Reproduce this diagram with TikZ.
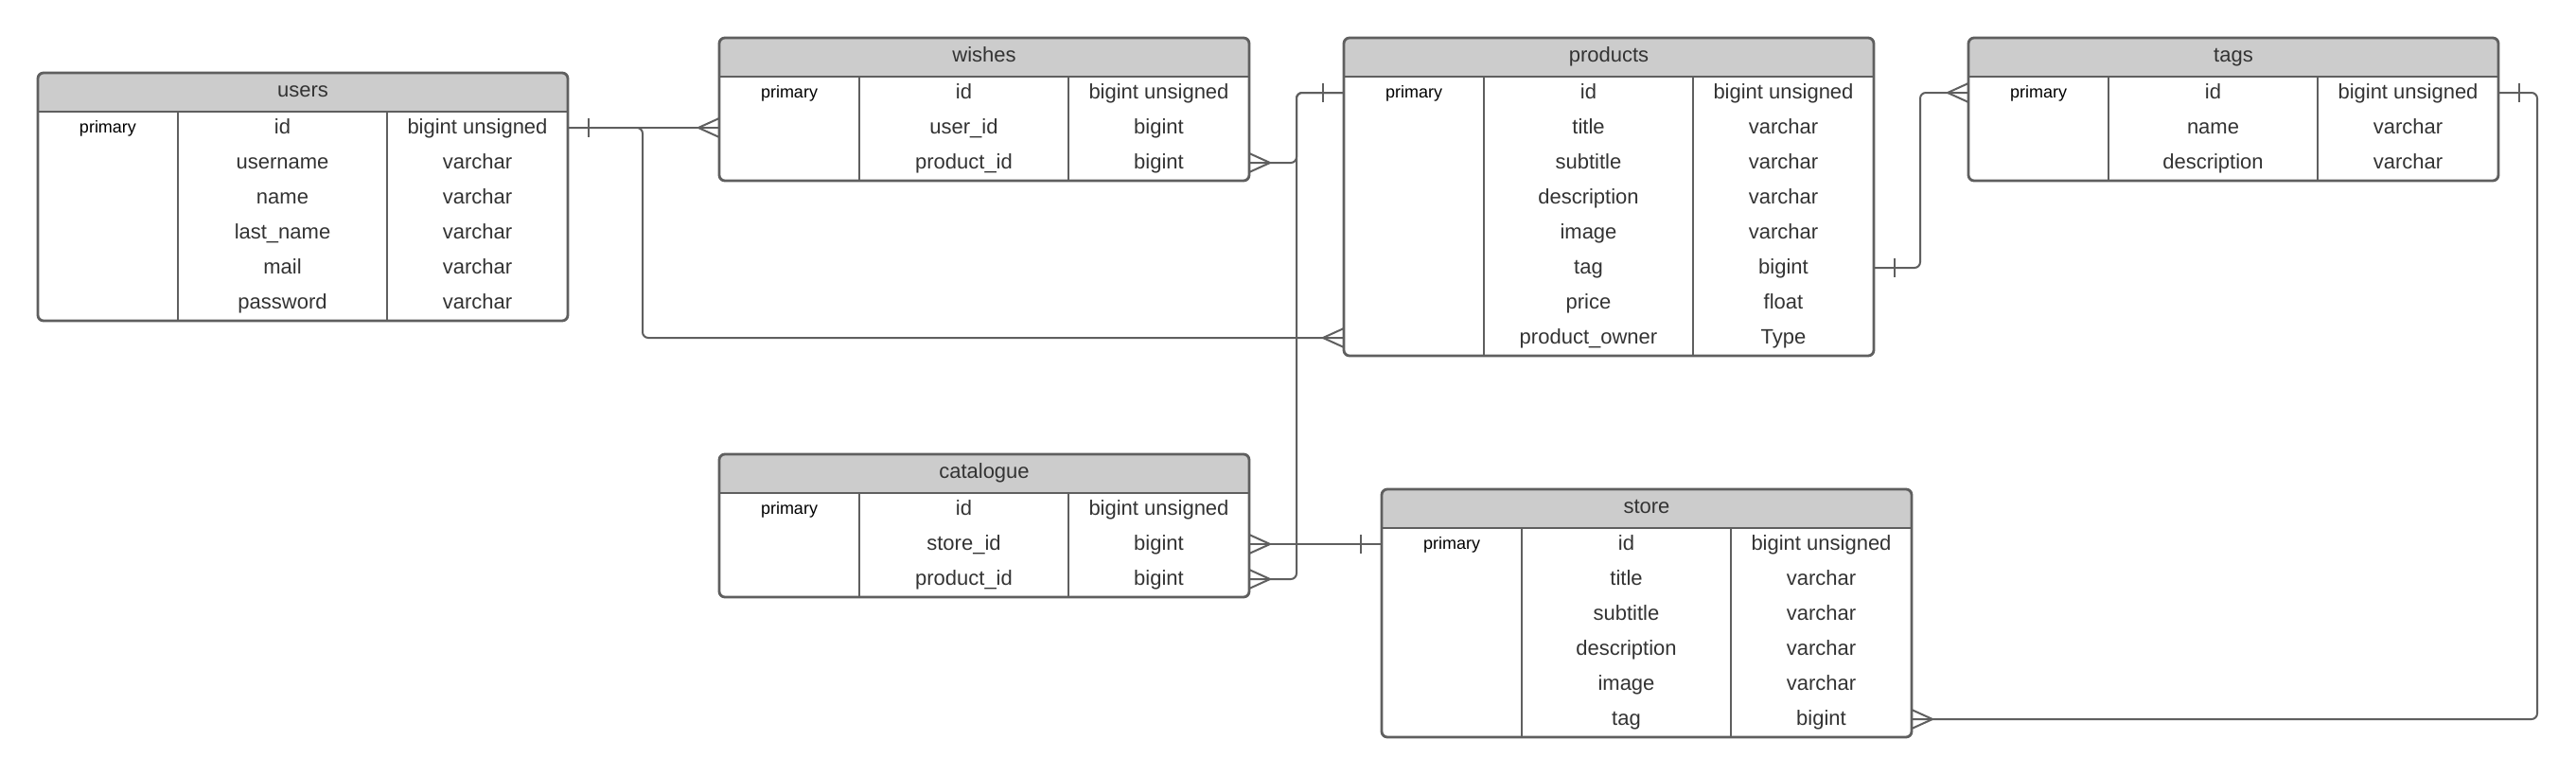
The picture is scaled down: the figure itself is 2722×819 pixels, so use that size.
\documentclass[tikz,border=0pt]{standalone}
\usepackage{fontspec}
\setmainfont{Liberation Sans}
\usetikzlibrary{calc}
\definecolor{linegray}{HTML}{5F5F5F}
\definecolor{headgray}{HTML}{CCCCCC}
\definecolor{txtgray}{HTML}{333333}
\tikzset{
  tframe/.style={draw=linegray, line width=1.4pt, rounded corners=3pt, inner sep=0pt, outer sep=0pt},
  tline/.style={draw=linegray, line width=1.4pt},
  conn/.style={draw=linegray, line width=1pt, rounded corners=3pt},
  crowline/.style={draw=linegray, line width=1pt},
  celltxt/.style={text=txtgray, font=\fontsize{11}{13}\selectfont, inner sep=0pt, anchor=base},
  keytxt/.style={text=black, font=\fontsize{9}{11}\selectfont, inner sep=0pt, anchor=base},
  titletxt/.style={text=txtgray, font=\fontsize{11}{13}\selectfont, inner sep=0pt, anchor=base},
}
% #1 name, #2 left, #3 top, #4 title, #5 number of rows, #6 rows key/field/type
\newcommand{\ertable}[6]{%
  \pgfmathsetmacro{\tbot}{#3+41+36+(#5-1)*37}
  \pgfmathsetmacro{\tright}{#2+560}
  \pgfmathsetmacro{\thgt}{(\tbot-#3)*0.5}
  \begin{scope}
    \clip (#2,#3) rectangle (\tright,#3+41);
    \fill[headgray, rounded corners=3pt] (#2,#3) rectangle (\tright,\tbot);
  \end{scope}
  \node[tframe, minimum width=280pt, minimum height=\thgt pt, anchor=north west] (#1) at (#2,#3) {};
  \draw[tline] (#2,#3+41) -- (\tright,#3+41);
  \draw[tline] (#2+148,#3+41) -- (#2+148,\tbot);
  \draw[tline] (#2+369,#3+41) -- (#2+369,\tbot);
  \node[titletxt] (#1-title) at (#2+280,#3+25) {#4};
  \foreach \k/\f/\t [count=\i] in {#6} {
    \pgfmathsetmacro{\ry}{#3+57+(\i-1)*37}
    \node[keytxt] (#1-\i-k) at (#2+74,\ry+6) {\k};
    \node[celltxt] (#1-\i-f) at (#2+258.5,\ry+7) {\f};
    \node[celltxt] (#1-\i-t) at (#2+464.5,\ry+7) {\t};
    \coordinate (#1-\i-l) at (#2,\ry+1);
    \coordinate (#1-\i-r) at (\tright,\ry+1);
  }
}
\newcommand{\crowmark}[2]{% #1 coordinate on table edge, #2 signed offset of apex
  \draw[crowline] ($(#1)+(#2,0)$) -- ($(#1)+(0,-10)$) ($(#1)+(#2,0)$) -- ($(#1)+(0,10)$);
}
\newcommand{\tickmark}[2]{% #1 coordinate on table edge, #2 signed offset
  \draw[crowline] ($(#1)+(#2,-10)$) -- ($(#1)+(#2,10)$);
}
\begin{document}
\begin{tikzpicture}[x=0.5pt, y=-0.5pt]
\fill[white] (0,0) rectangle (2722,819);
\useasboundingbox (0,0) rectangle (2722,819);

\ertable{users}{40}{77}{users}{6}{primary/id/bigint unsigned, /username/varchar, /name/varchar, /last\_name/varchar, /mail/varchar, /password/varchar}
\ertable{wishes}{760}{40}{wishes}{3}{primary/id/bigint unsigned, /user\_id/bigint, /product\_id/bigint}
\ertable{products}{1420}{40}{products}{8}{primary/id/bigint unsigned, /title/varchar, /subtitle/varchar, /description/varchar, /image/varchar, /tag/bigint, /price/float, /product\_owner/Type}
\ertable{tags}{2080}{40}{tags}{3}{primary/id/bigint unsigned, /name/varchar, /description/varchar}
\ertable{catalogue}{760}{480}{catalogue}{3}{primary/id/bigint unsigned, /store\_id/bigint, /product\_id/bigint}
\ertable{store}{1460}{517}{store}{6}{primary/id/bigint unsigned, /title/varchar, /subtitle/varchar, /description/varchar, /image/varchar, /tag/bigint}

% users.id -> wishes.user_id
\draw[conn] (users-1-r) -- (wishes-2-l);
\tickmark{users-1-r}{22}
\crowmark{wishes-2-l}{-22}
% users.id -> products.product_owner
\draw[conn] (users-1-r) -- ++(79,0) |- (products-8-l);
\crowmark{products-8-l}{-22}
% wishes.product_id -> products.id
\draw[conn] (wishes-3-r) -- ++(50,0) |- (products-1-l);
\crowmark{wishes-3-r}{22}
\tickmark{products-1-l}{-22}
% catalogue.product_id -> products.id
\draw[conn] (catalogue-3-r) -- ++(50,0) |- (products-1-l);
\crowmark{catalogue-3-r}{22}
% catalogue.store_id -> store.id
\draw[conn] (catalogue-2-r) -- (store-1-l);
\crowmark{catalogue-2-r}{22}
\tickmark{store-1-l}{-22}
% products.tag -> tags.id
\draw[conn] (products-6-r) -- ++(49,0) |- (tags-1-l);
\tickmark{products-6-r}{22}
\crowmark{tags-1-l}{-22}
% tags.id -> store.tag
\draw[conn] (tags-1-r) -- ++(41,0) |- (store-6-r);
\tickmark{tags-1-r}{22}
\crowmark{store-6-r}{22}
\end{tikzpicture}
\end{document}
